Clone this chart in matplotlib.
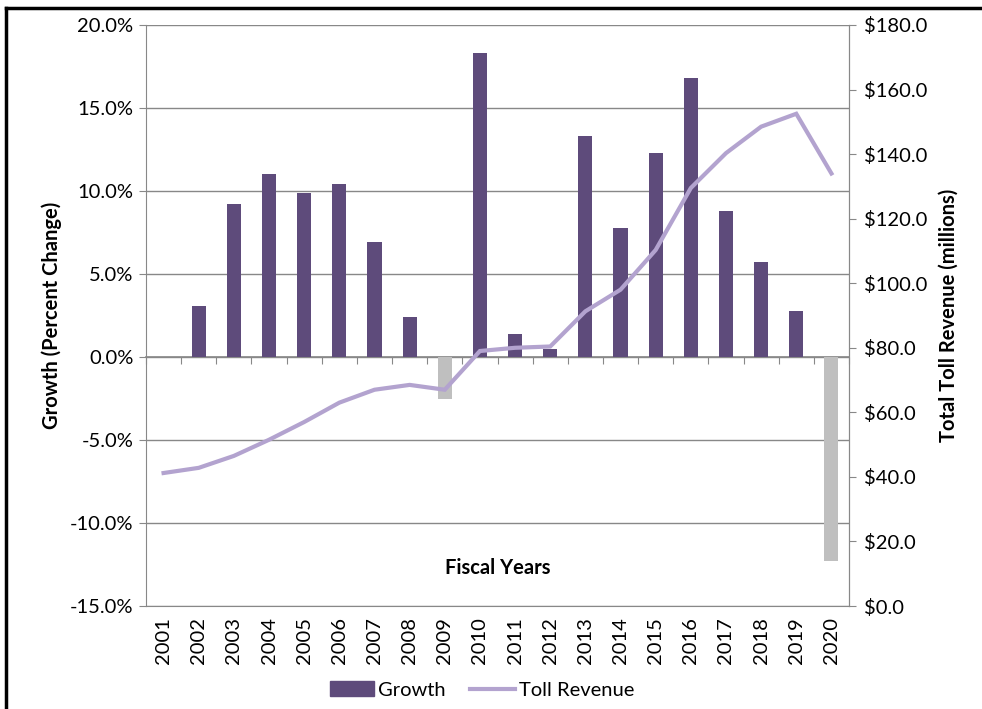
import numpy as np
import matplotlib
matplotlib.use("Agg")
import matplotlib.pyplot as plt
from matplotlib.lines import Line2D
from matplotlib.patches import Patch
from matplotlib.ticker import FuncFormatter, FixedLocator

plt.rcParams['font.family'] = ['Lato', 'DejaVu Sans']

years = [str(y) for y in range(2001, 2021)]
growth = [np.nan, 3.1, 9.2, 11.0, 9.9, 10.4, 6.9, 2.4, -2.5, 18.3,
          1.4, 0.5, 13.3, 7.8, 12.3, 16.8, 8.8, 5.7, 2.8, -12.3]
toll_revenue = [41.2, 42.8, 46.5, 51.5, 57.0, 63.0, 67.0, 68.5, 67.0, 79.0,
                80.0, 80.4, 91.3, 98.0, 110.3, 129.5, 140.3, 148.5, 152.5, 134.0]

bar_color = "#5E4B7B"
neg_color = "#BFBFBF"
line_color = "#B3A3CF"
grid_color = "#888888"
fs = 14.5

fig = plt.figure(figsize=(9.82, 7.09), dpi=100)
ax = fig.add_axes([146 / 982, 1 - 606 / 709, 703 / 982, 581 / 709])

x = np.arange(len(years))
colors = [neg_color if (not np.isnan(g) and g < 0) else bar_color for g in growth]
ax.bar(x, growth, width=0.4, color=colors, zorder=3)

ax.set_xlim(-0.5, len(years) - 0.5)
ax.set_ylim(-15, 20)
ax.set_yticks(np.arange(-15, 20.1, 5))
ax.yaxis.set_major_formatter(FuncFormatter(lambda v, p: f"{v:.1f}%"))
ax.grid(axis='y', color=grid_color, linewidth=1, zorder=0)
ax.set_axisbelow(True)

# category axis crosses at 0, ticks between categories
ax.spines['bottom'].set_position(('data', 0))
ax.spines['bottom'].set_color(grid_color)
ax.spines['bottom'].set_linewidth(1.2)
ax.xaxis.set_major_locator(FixedLocator(np.arange(-0.5, len(years), 1)))
ax.tick_params(axis='x', direction='out', length=5, color=grid_color, labelbottom=False)
ax.spines['top'].set_visible(False)
ax.spines['left'].set_color(grid_color)
ax.spines['right'].set_color(grid_color)
ax.tick_params(axis='y', length=5, color=grid_color, labelsize=fs, pad=4)

sec = ax.secondary_xaxis(0.0)
sec.set_xticks(x)
sec.set_xticklabels(years, rotation=90, fontsize=fs)
sec.tick_params(length=0, pad=8)
sec.spines['bottom'].set_color(grid_color)

ax.set_ylabel("Growth (Percent Change)", fontsize=fs, fontweight='bold', labelpad=6)
ax.text(0.5, 0.065, "Fiscal Years", transform=ax.transAxes, ha='center', va='center',
        fontsize=fs, fontweight='bold')

ax2 = ax.twinx()
ax2.plot(x, toll_revenue, color=line_color, linewidth=3, solid_joinstyle='miter', zorder=4)
ax2.set_ylim(0, 180)
ax2.set_yticks(np.arange(0, 181, 20))
ax2.yaxis.set_major_formatter(FuncFormatter(lambda v, p: f"${v:.1f}"))
ax2.tick_params(axis='y', length=5, color=grid_color, labelsize=fs, pad=6)
for s in ['top', 'left', 'bottom']:
    ax2.spines[s].set_visible(False)
ax2.spines['right'].set_color(grid_color)
ax2.set_ylabel("Total Toll Revenue (millions)", fontsize=fs, fontweight='bold', labelpad=8)

handles = [Patch(color=bar_color, label="Growth"),
           Line2D([0], [0], color=line_color, linewidth=3, label="Toll Revenue")]
fig.legend(handles=handles, loc='center', bbox_to_anchor=(482 / 982, 1 - 690 / 709),
           ncol=2, frameon=False, fontsize=fs, handlelength=2.2, columnspacing=1.2,
           handletextpad=0.2)

# outer frame
fig.add_artist(Line2D([6 / 982, 6 / 982], [0, 1 - 8 / 709], color='black', linewidth=2.5,
                      transform=fig.transFigure))
fig.add_artist(Line2D([6 / 982, 1], [1 - 8 / 709, 1 - 8 / 709], color='black', linewidth=2.5,
                      transform=fig.transFigure))

fig.savefig("out.png", dpi=100)
